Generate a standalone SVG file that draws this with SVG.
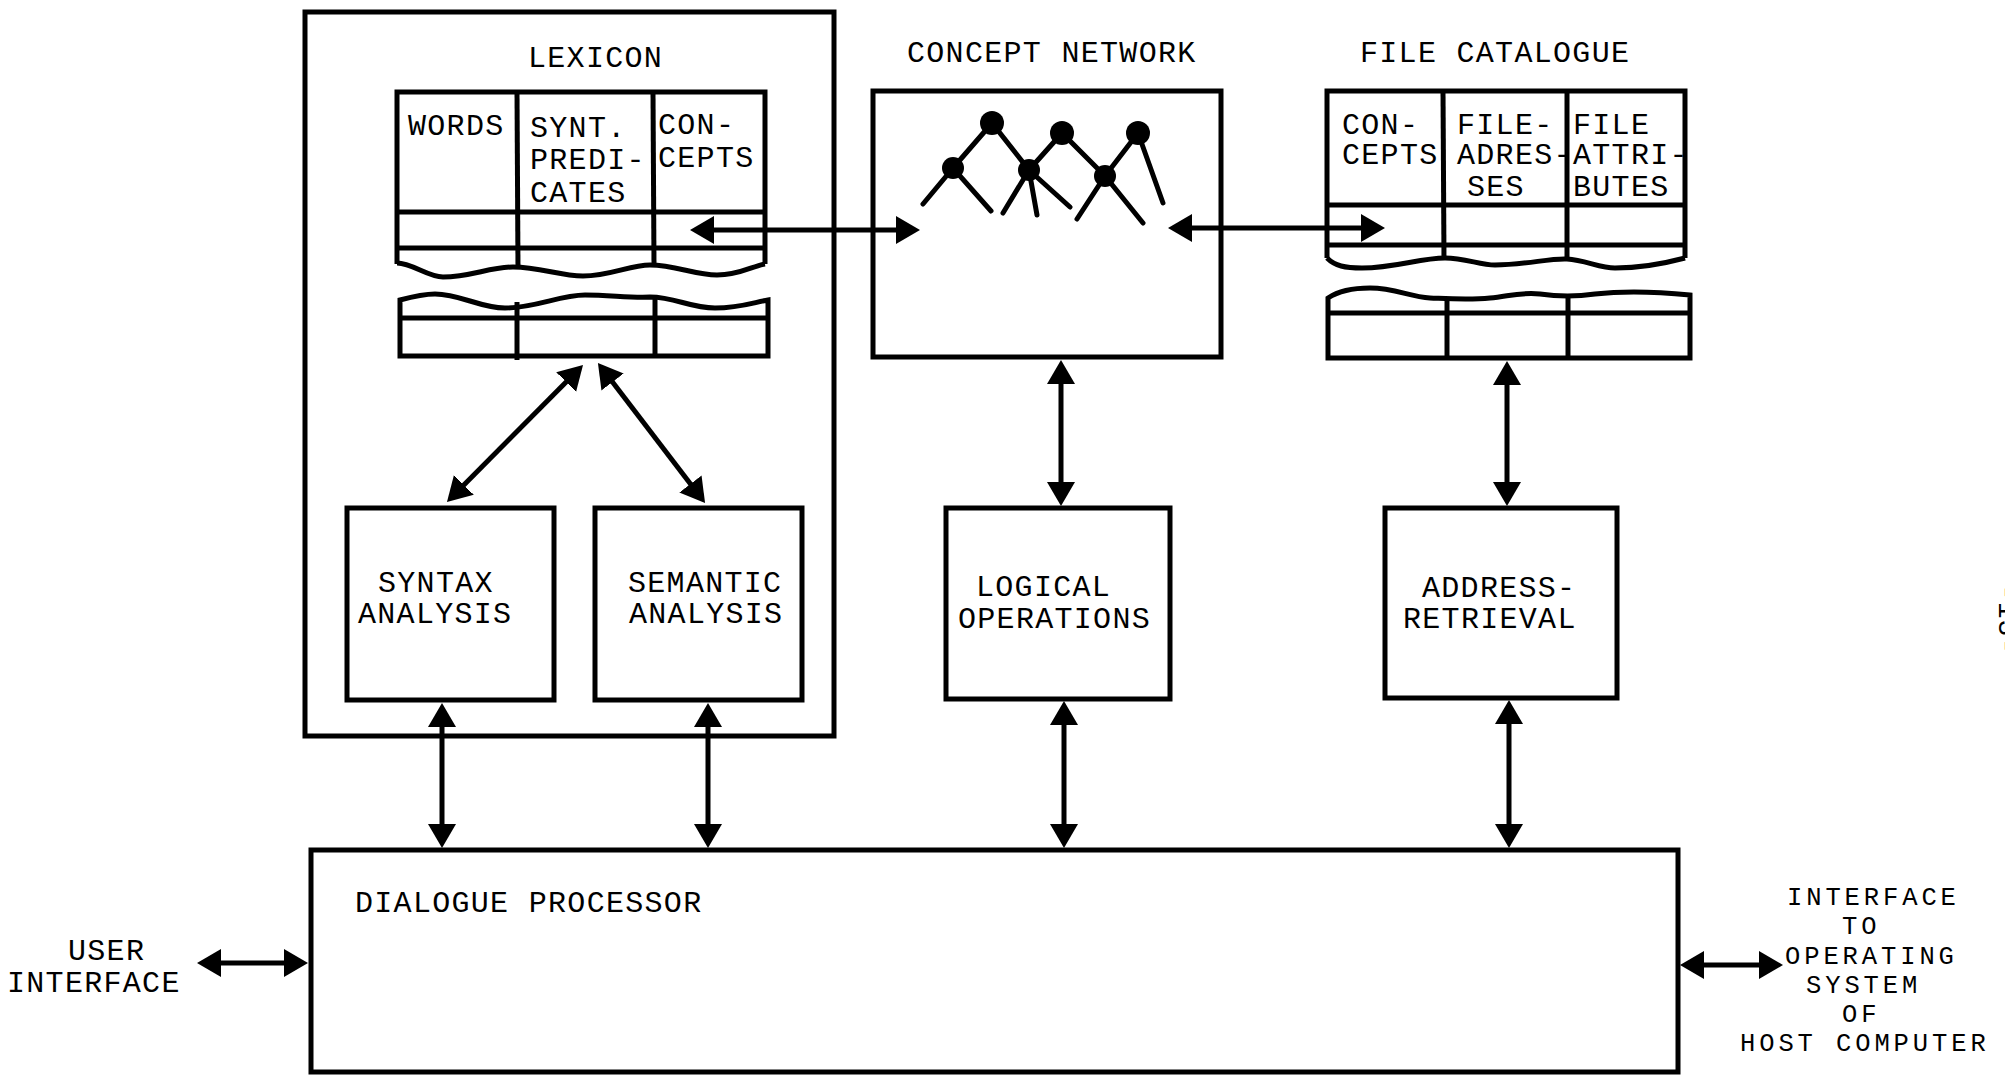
<svg xmlns="http://www.w3.org/2000/svg" width="2005" height="1076" viewBox="0 0 2005 1076">
<defs>
<style>
.box{fill:none;stroke:#000;stroke-width:5;stroke-linejoin:miter}
.ln{fill:none;stroke:#000;stroke-width:5}
.net{fill:none;stroke:#000;stroke-width:5;stroke-linecap:round}
.conn{fill:none;stroke:#000;stroke-width:5;marker-start:url(#ah);marker-end:url(#ah)}
text{font-family:"Liberation Mono","Courier New",monospace;font-size:30px;letter-spacing:1.3px;fill:#000}
.small{font-size:25.5px;letter-spacing:3.9px}
</style>
<marker id="ah" markerUnits="userSpaceOnUse" markerWidth="30" markerHeight="30" refX="18" refY="14" orient="auto-start-reverse">
<path d="M0,0 L24,14 L0,28 z" fill="#000"/>
</marker>
</defs>
<rect width="2005" height="1076" fill="#fff"/>

<g id="lexicon">
<rect class="box" x="305" y="12" width="529" height="724"/>
<text x="528" y="67">LEXICON</text>
<g id="lexicon-table">
<path class="ln" d="M397,264 L397,92 L765,92 L765,264"/>
<path class="ln" d="M397,263 C412,263 428,277 443,277 C470,277 490,267 513,267 C540,267 560,276 583,276 C610,276 630,265 650,265 C675,265 695,275 717,275 C740,275 752,266 765,264"/>
<line class="ln" x1="397" y1="212" x2="765" y2="212"/>
<line class="ln" x1="397" y1="248" x2="765" y2="248"/>
<line class="ln" x1="517" y1="92" x2="518" y2="268"/>
<line class="ln" x1="653" y1="92" x2="654" y2="265"/>
<path class="ln" d="M400,300 C415,296 425,294 435,294 C460,294 480,308 505,308 C535,308 560,295 585,295 C610,295 630,298 650,297 C675,297 690,308 715,308 C740,308 755,302 768,300 L768,356 L400,356 Z"/>
<line class="ln" x1="400" y1="318" x2="768" y2="318"/>
<line class="ln" x1="517" y1="302" x2="517" y2="360"/>
<line class="ln" x1="655" y1="297" x2="655" y2="356"/>
<text x="408" y="135">WORDS</text>
<text x="530" y="137">SYNT.</text>
<text x="530" y="169">PREDI-</text>
<text x="530" y="202">CATES</text>
<text x="658" y="134">CON-</text>
<text x="658" y="167">CEPTS</text>
</g>
</g>

<g id="syntax-analysis">
<rect class="box" x="347" y="508" width="207" height="192"/>
<text x="378" y="592">SYNTAX</text>
<text x="358" y="623">ANALYSIS</text>
</g>

<g id="semantic-analysis">
<rect class="box" x="595" y="508" width="207" height="192"/>
<text x="628" y="592">SEMANTIC</text>
<text x="629" y="623">ANALYSIS</text>
</g>

<g id="concept-network">
<text x="907" y="62">CONCEPT NETWORK</text>
<rect class="box" x="873" y="91" width="348" height="266"/>
<path class="net" d="M953,168 L992,123 L1029,170 L1062,133 L1105,176 L1138,133"/>
<path class="net" d="M923,204 L953,168 L991,211 M1003,213 L1029,170 L1037,215 M1029,170 L1070,207 M1077,219 L1105,176 L1143,223 M1138,133 L1163,203"/>
<circle cx="992" cy="123" r="12"/>
<circle cx="953" cy="168" r="11"/>
<circle cx="1062" cy="133" r="12"/>
<circle cx="1029" cy="170" r="11"/>
<circle cx="1138" cy="133" r="12"/>
<circle cx="1105" cy="176" r="11"/>
</g>

<g id="file-catalogue">
<text x="1360" y="62">FILE CATALOGUE</text>
<path class="ln" d="M1327,258 L1327,91 L1685,91 L1685,258"/>
<path class="ln" d="M1327,258 C1335,266 1345,268 1362,268 C1395,268 1420,258 1445,258 C1465,258 1480,265 1495,265 C1525,265 1550,258 1567,259 C1585,260 1600,268 1615,268 C1645,268 1670,262 1685,258"/>
<line class="ln" x1="1327" y1="205" x2="1685" y2="205"/>
<line class="ln" x1="1327" y1="245" x2="1685" y2="245"/>
<line class="ln" x1="1443" y1="91" x2="1444" y2="260"/>
<line class="ln" x1="1567" y1="91" x2="1567" y2="260"/>
<path class="ln" d="M1328,298 C1340,290 1355,288 1370,288 C1395,288 1410,297 1430,298 C1455,299 1470,300 1490,298 C1510,296 1520,292 1540,294 C1560,297 1575,297 1595,294 C1630,290 1660,292 1690,295 L1690,358 L1328,358 Z"/>
<line class="ln" x1="1328" y1="313" x2="1690" y2="313"/>
<line class="ln" x1="1447" y1="299" x2="1447" y2="358"/>
<line class="ln" x1="1568" y1="296" x2="1568" y2="358"/>
<text x="1342" y="134">CON-</text>
<text x="1342" y="164">CEPTS</text>
<text x="1457" y="134">FILE-</text>
<text x="1457" y="164">ADRES-</text>
<text x="1467" y="196">SES</text>
<text x="1573" y="134">FILE</text>
<text x="1573" y="164">ATTRI-</text>
<text x="1573" y="196">BUTES</text>
</g>

<g id="logical-operations">
<rect class="box" x="946" y="508" width="224" height="191"/>
<text x="976" y="596">LOGICAL</text>
<text x="958" y="628">OPERATIONS</text>
</g>

<g id="address-retrieval">
<rect class="box" x="1385" y="508" width="232" height="190"/>
<text x="1422" y="597">ADDRESS-</text>
<text x="1403" y="628">RETRIEVAL</text>
</g>

<g id="dialogue-processor">
<rect class="box" x="311" y="850" width="1367" height="222"/>
<text x="355" y="912">DIALOGUE PROCESSOR</text>
</g>

<g id="user-interface">
<text x="68" y="960">USER</text>
<text x="7" y="992">INTERFACE</text>
</g>

<g id="host-interface">
<text class="small" x="1787" y="905">INTERFACE</text>
<text class="small" x="1842" y="934">TO</text>
<text class="small" x="1785" y="964">OPERATING</text>
<text class="small" x="1806" y="993">SYSTEM</text>
<text class="small" x="1842" y="1022">OF</text>
<text class="small" x="1740" y="1051">HOST COMPUTER</text>
</g>

<g id="connectors">
<line class="conn" x1="696" y1="230" x2="914" y2="230"/>
<line class="conn" x1="1174" y1="228" x2="1379" y2="228"/>
<line class="conn" x1="578.8" y1="369.3" x2="451.2" y2="497.7"/>
<line class="conn" x1="601.6" y1="367.8" x2="701.4" y2="498.2"/>
<line class="conn" x1="1061" y1="366" x2="1061" y2="500"/>
<line class="conn" x1="1507" y1="367" x2="1507" y2="500"/>
<line class="conn" x1="442" y1="709" x2="442" y2="842"/>
<line class="conn" x1="708" y1="709" x2="708" y2="842"/>
<line class="conn" x1="1064" y1="707" x2="1064" y2="842"/>
<line class="conn" x1="1509" y1="706" x2="1509" y2="842"/>
<line class="conn" x1="203" y1="963" x2="302" y2="963"/>
<line class="conn" x1="1686" y1="965" x2="1777" y2="965"/>
</g>

<text id="page-number" transform="translate(1999,584) rotate(90)" style="font-size:28px;letter-spacing:1px">-13-</text>
</svg>
